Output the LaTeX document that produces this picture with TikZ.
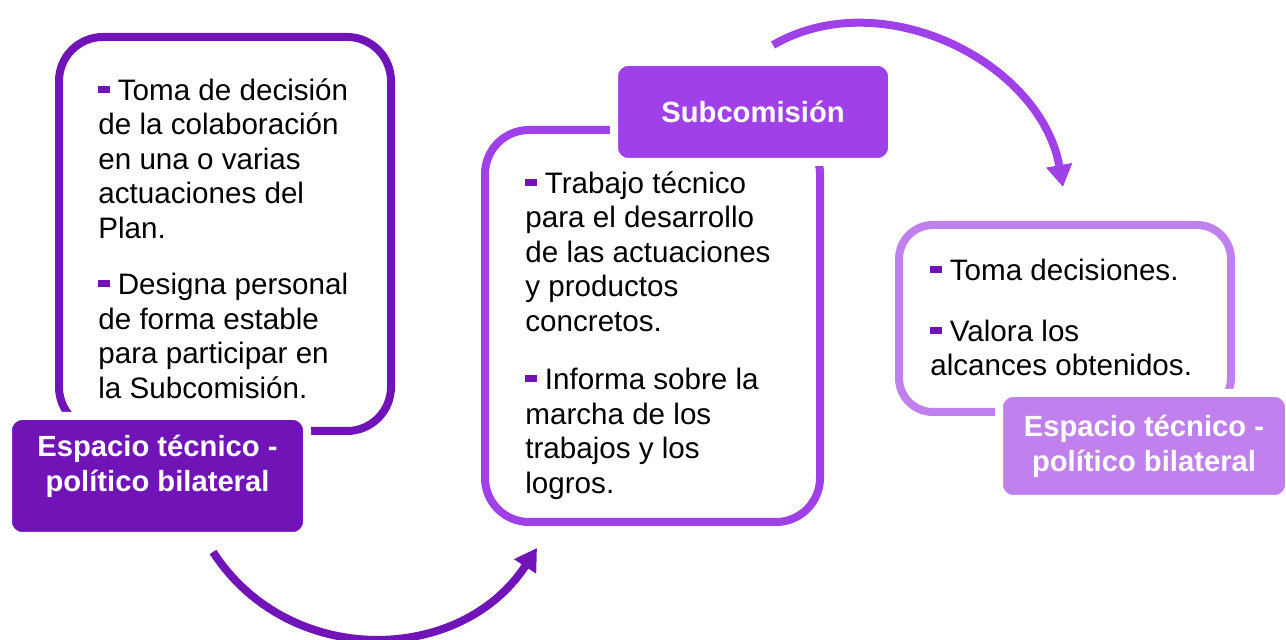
\documentclass[tikz,border=0pt]{standalone}
\usepackage{fontspec}
\setmainfont{Liberation Sans}
\usepackage{xcolor}
\usetikzlibrary{arrows.meta}
\definecolor{oscuro}{RGB}{112,20,184}
\definecolor{medio}{RGB}{160,64,232}
\definecolor{claro}{RGB}{192,128,238}
\newcommand{\guion}{\textcolor{oscuro}{\rule[0.25em]{0.38em}{0.24em}}\ }
\tikzstyle{box} = [draw, line width=4pt, fill=white, rounded corners=22pt]
\tikzstyle{tag} = [draw=white, line width=4pt, rounded corners=7pt, text=white, font=\fontsize{14.6}{17.5}\selectfont\bfseries, align=center]
\tikzstyle{txt} = [anchor=north west, inner sep=0pt, align=left, font=\fontsize{14.8}{17.25}\selectfont]
\tikzstyle{arrow} = [line width=4pt, -{Triangle[length=11pt,width=12.5pt]}]

\begin{document}
\begin{tikzpicture}[x=0.5pt,y=0.5pt]
\useasboundingbox (0,0) rectangle (1286,640);
% cajas
\node[box, draw=oscuro, minimum width=166pt, minimum height=197pt] (izq) at (225,406) {};
\node[box, draw=medio, minimum width=167.5pt, minimum height=196pt] (centro) at (652.5,314) {};
\node[box, draw=claro, rounded corners=17pt, minimum width=166pt, minimum height=93.5pt] (der) at (1065,321.5) {};
% textos
\node[txt] (izqtxt) at (98,562) {\guion Toma de decisión\\ de la colaboración\\ en una o varias\\ actuaciones del\\ Plan.\\[11pt]
  \guion Designa personal\\ de forma estable\\ para participar en\\ la Subcomisión.};
\node[txt] (centrotxt) at (525,469) {\guion Trabajo técnico\\ para el desarrollo\\ de las actuaciones\\ y productos\\ concretos.\\[12pt]
  \guion Informa sobre la\\ marcha de los\\ trabajos y los\\ logros.};
\node[txt] (dertxt) at (930,381) {\guion Toma decisiones.\\[13pt]
  \guion Valora los\\ alcances obtenidos.};
% etiquetas
\node[tag, fill=oscuro, minimum width=149.5pt, minimum height=60pt, text depth=13pt] (izqtag) at (157.5,164) {Espacio técnico -\\ político bilateral};
\node[tag, fill=medio, minimum width=139pt, minimum height=50pt] (centrotag) at (753,528) {Subcomisión};
\node[tag, fill=claro, minimum width=145pt, minimum height=53pt] (dertag) at (1144,194) {Espacio técnico -\\ político bilateral};
% flechas
\coordinate (a1) at (213,88);
\coordinate (a2) at (537,92);
\draw[arrow, oscuro] (a1) to[out=-57, in=237, looseness=1.1] (a2);
\coordinate (b1) at (773,595);
\coordinate (b2) at (1063,453);
\draw[arrow, medio] (b1) to[out=30, in=100] (b2);
\end{tikzpicture}
\end{document}
